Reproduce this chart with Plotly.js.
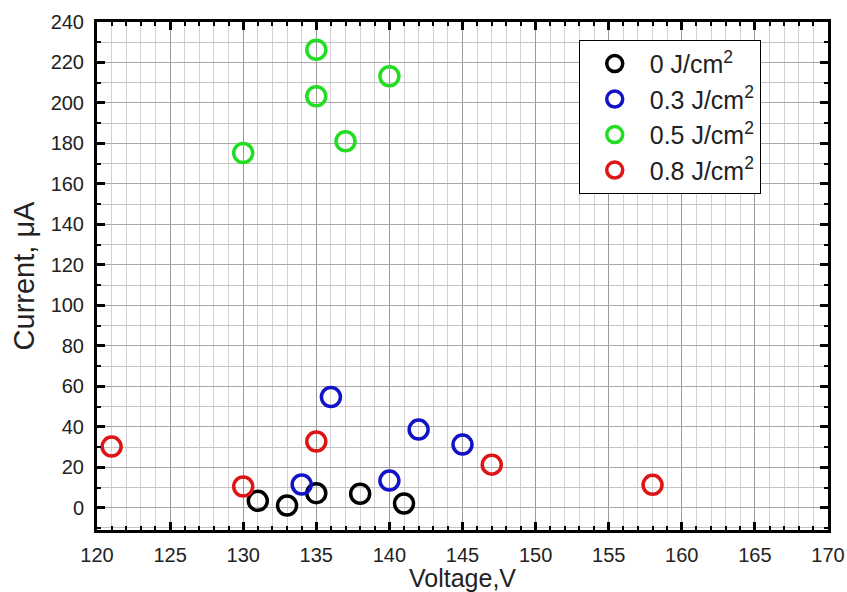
<!DOCTYPE html>
<html>
<head>
<meta charset="utf-8">
<script src="https://cdn.plot.ly/plotly-3.0.1.min.js"></script>
<style>html,body{margin:0;padding:0;background:#fff;}#chart{width:847px;height:592px;}</style>
</head>
<body>
<div id="chart"></div>
<script>
const seriesNames = ['0 J/cm<sup>2</sup>', '0.3 J/cm<sup>2</sup>', '0.5 J/cm<sup>2</sup>', '0.8 J/cm<sup>2</sup>'];
const seriesColors = ['#000000', '#1212c8', '#22dd22', '#dd1515'];

const voltage0 = [131, 133, 135, 138, 141];
const current0 = [3.4, 1.1, 7.2, 6.9, 2.1];

const voltage03 = [134, 136, 140, 142, 145];
const current03 = [11.5, 54.7, 13.4, 38.6, 31.2];

const voltage05 = [130, 135, 135, 137, 140];
const current05 = [175.3, 226.3, 203.3, 181.1, 213.2];

const voltage08 = [121, 130, 135, 147, 158];
const current08 = [30.2, 10.5, 32.7, 21.3, 11.3];

const xs = [voltage0, voltage03, voltage05, voltage08];
const ys = [current0, current03, current05, current08];

const traces = xs.map((x, i) => ({
  type: 'scatter',
  mode: 'markers',
  x: x,
  y: ys[i],
  name: seriesNames[i],
  marker: {symbol: 'circle-open', size: 19, color: seriesColors[i], line: {width: 3.5, color: seriesColors[i]}}
}));

const fam = 'Arial, "Liberation Sans", sans-serif';
const tickFont = {family: fam, size: 20, color: '#222'};

const layout = {
  width: 847, height: 592,
  margin: {l: 97, r: 19, t: 22, b: 62},
  paper_bgcolor: '#fff', plot_bgcolor: '#fff',
  showlegend: true,
  legend: {
    x: 0.659, y: 0.965, xanchor: 'left', yanchor: 'top',
    bgcolor: '#fff', bordercolor: '#000', borderwidth: 1,
    font: {family: fam, size: 25, color: '#222'},
    itemwidth: 60,
    itemsizing: 'trace'
  },
  xaxis: {
    range: [120, 170], dtick: 5, tick0: 120,
    showline: true, linewidth: 3, linecolor: '#000', mirror: 'allticks',
    ticks: 'inside', ticklen: 8, tickwidth: 3, tickcolor: '#000',
    showgrid: true, gridcolor: '#9a9a9a', gridwidth: 1,
    zeroline: false,
    minor: {dtick: 1, ticks: 'inside', ticklen: 4, tickwidth: 2, tickcolor: '#000', showgrid: true, gridcolor: '#d2d2d2', gridwidth: 1},
    tickfont: tickFont,
    ticklabelstandoff: 5,
    title: {text: 'Voltage,V', font: {family: fam, size: 25, color: '#222'}, standoff: 1}
  },
  yaxis: {
    range: [-11, 240], dtick: 20, tick0: 0,
    showline: true, linewidth: 3, linecolor: '#000', mirror: 'allticks',
    ticks: 'inside', ticklen: 8, tickwidth: 3, tickcolor: '#000',
    showgrid: true, gridcolor: '#a8a8a8', gridwidth: 1,
    zeroline: false,
    minor: {dtick: 10, ticks: 'inside', ticklen: 4, tickwidth: 2, tickcolor: '#000', showgrid: true, gridcolor: '#c4c4c4', gridwidth: 1},
    tickfont: tickFont,
    ticklabelstandoff: 6,
    title: {text: 'Current, μA', font: {family: fam, size: 29, color: '#222'}, standoff: 8}
  }
};

Plotly.newPlot('chart', traces, layout, {displayModeBar: false, staticPlot: true});
</script>
</body>
</html>
